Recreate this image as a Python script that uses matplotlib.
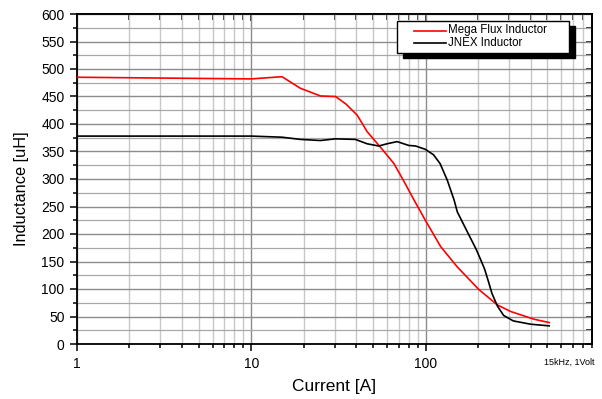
import matplotlib
matplotlib.use("Agg")
import matplotlib.pyplot as plt
from matplotlib.patches import Rectangle
from matplotlib.lines import Line2D
from matplotlib.ticker import LogLocator, MultipleLocator, NullFormatter, FixedLocator, FixedFormatter

plt.rcParams["font.family"] = ["Liberation Sans", "DejaVu Sans"]

# ── Data ──────────────────────────────────────────────────────────────────────
mega_current = [1, 10, 15, 19.1, 24.9, 30.4, 35, 40.5, 46.2, 55, 65.8, 75, 85.7,
                100, 122, 152, 202, 258, 308, 419, 511]
mega_induct = [485, 482, 486, 465, 451, 450, 436, 416, 386, 358, 328, 296, 262,
               224, 177, 140, 99, 71, 59, 45, 39]

jnex_current = [1, 10, 15, 19.1, 24.9, 30.4, 39.5, 46.2, 53.8, 60, 68.6, 80,
                87.6, 99.5, 111, 121, 133, 145.5, 152, 174, 195, 207, 218, 230,
                240, 258, 280, 318, 400, 511]
jnex_induct = [378, 378, 376, 372, 370, 373, 372, 364, 360, 364, 368, 361,
               360, 354, 344, 328, 298, 262, 240, 203, 172, 153, 136, 112,
               92, 69, 52, 42, 36, 33]

labels = ["Mega Flux Inductor", "JNEX Inductor"]
colors = ["#ff0000", "#000000"]

y_ticks = [0, 50, 100, 150, 200, 250, 300, 350, 400, 450, 500, 550, 600]
x_ticks = [1, 10, 100]
x_tick_labels = ["1", "10", "100"]

# ── Figure ────────────────────────────────────────────────────────────────────
W, H = 602, 399
fig = plt.figure(figsize=(W / 100, H / 100), dpi=100)
ax = fig.add_axes([77 / W, 1 - 344 / H, (592 - 77) / W, (344 - 14) / H])


def fx(px):
    return px / W


def fy(py):
    return 1 - py / H


ax.set_xscale("log")
ax.set_xlim(1, 900)
ax.set_ylim(0, 600)

ax.xaxis.set_major_locator(FixedLocator(x_ticks))
ax.xaxis.set_major_formatter(FixedFormatter(x_tick_labels))
ax.xaxis.set_minor_locator(LogLocator(base=10, subs=range(2, 10), numticks=20))
ax.xaxis.set_minor_formatter(NullFormatter())
ax.yaxis.set_major_locator(FixedLocator(y_ticks))
ax.yaxis.set_minor_locator(MultipleLocator(25))

ax.grid(which="major", axis="both", color="#8c8c8c", linewidth=1.0, zorder=0)
ax.grid(which="minor", axis="x", color="#c8c8c8", linewidth=1.0, zorder=0)
ax.grid(which="minor", axis="y", color="#a8a8a8", linewidth=0.9, zorder=0)

ax.plot(mega_current, mega_induct, color=colors[0], linewidth=1.2, zorder=3)
ax.plot(jnex_current, jnex_induct, color=colors[1], linewidth=1.2, zorder=3)

for s in ax.spines.values():
    s.set_linewidth(1.3)

ax.tick_params(which="both", direction="out", width=1.1, top=False, right=False)
ax.tick_params(which="major", length=5, labelsize=10, pad=4)
ax.tick_params(which="minor", length=3)

# inward ticks on top / right
top = ax.secondary_xaxis("top")
top.set_xticks(x_ticks)
top.set_xticklabels([])
top.xaxis.set_minor_locator(LogLocator(base=10, subs=range(2, 10), numticks=20))
top.xaxis.set_minor_formatter(NullFormatter())
top.tick_params(which="both", direction="in", labeltop=False, width=1.1)
top.tick_params(which="major", length=5)
top.tick_params(which="minor", length=4)
top.spines["top"].set_linewidth(1.3)
right = ax.secondary_yaxis("right")
right.set_yticks(y_ticks)
right.set_yticklabels([])
right.yaxis.set_minor_locator(MultipleLocator(25))
right.tick_params(which="both", direction="in", labelright=False, length=4, width=1.1)
right.spines["right"].set_linewidth(1.3)

ax.set_xlabel("Current [A]", fontsize=12.5)
ax.set_ylabel("Inductance [uH]", fontsize=11.8)
ax.xaxis.set_label_coords(0.5, -(386.5 - 344) / 330, transform=ax.transAxes)
ax.yaxis.set_label_coords(-(77 - 21.5) / 515, (344 - 189) / 330, transform=ax.transAxes)
ax.xaxis.label.set_va("center")
ax.yaxis.label.set_va("center")

# ── Legend box with solid shadow ──────────────────────────────────────────────
bx0, by0, bx1, by1 = 397, 21, 569, 53
fig.add_artist(Rectangle((fx(bx0 + 6), fy(by1 + 5)), fx(bx1 - bx0), fy(by0) - fy(by1),
                         transform=fig.transFigure, facecolor="black",
                         edgecolor="black", zorder=10))
fig.add_artist(Rectangle((fx(bx0), fy(by1)), fx(bx1 - bx0), fy(by0) - fy(by1),
                         transform=fig.transFigure, facecolor="white",
                         edgecolor="black", linewidth=1.0, zorder=11))
for i, (lab, col) in enumerate(zip(labels, colors)):
    yy = 30.5 + i * 12
    fig.add_artist(Line2D([fx(414), fx(446)], [fy(yy), fy(yy)],
                          transform=fig.transFigure, color=col, linewidth=1.2,
                          zorder=12))
    fig.text(fx(448), fy(yy), lab, ha="left", va="center", fontsize=8.3,
             zorder=12)

fig.text(fx(595), fy(362), "15kHz, 1Volt", ha="right", va="center",
         fontsize=6.5)

fig.savefig("out.png", dpi=100, facecolor="white")
